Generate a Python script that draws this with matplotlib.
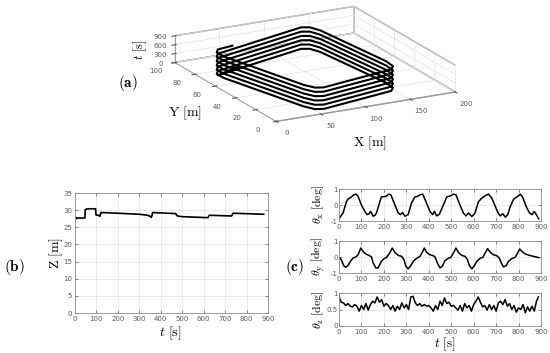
import matplotlib.pyplot as plt
import numpy as np

# ---- (a) trajectory: one lap of waypoints, repeated with lap start times
lap_dt = [0, 42, 45, 48, 70, 73, 76, 111, 114, 117, 139, 142]
lap_x = [18.0, 128.1, 135.6, 139.9, 150.1, 148.5, 142.1, 54.9, 46.7, 40.8, 13.0, 12.5]
lap_y = [73.4, 88.6, 86.6, 80.2, 24.0, 16.0, 12.0, 1.5, 3.0, 9.0, 62.9, 69.7]
lap_start = [10, 155, 300, 445, 590, 735]
start_xyt = [50, 81, 0]
end_x = [18.0, 36]
end_y = [73.4, 75]
end_t = [880, 886]

# ---- (b) altitude
t_z = [0, 5, 8, 12, 20, 46, 48, 60, 80, 96, 98, 109, 116, 121, 125, 200, 300, 340, 350, 355,
       358, 362, 470, 473, 478, 500, 580, 620, 623, 627, 730, 733, 737, 880]
z_m = [28.0, 27.8, 27.5, 27.7, 27.7, 27.7, 30.2, 30.4, 30.4, 30.4, 28.6, 28.5, 28.2, 29.3, 29.3,
       29.1, 28.8, 28.5, 28.2, 27.9, 28.2, 29.3, 29.0, 28.6, 28.3, 28.1, 27.9, 27.8, 28.2, 28.5,
       28.3, 28.6, 29.1, 28.8]

# ---- (c) attitude angles
t_thx = [3, 18, 33, 40, 55, 66, 77, 85, 100, 115, 125, 134, 141, 152, 160, 167, 182, 189, 209, 222,
         231, 249, 264, 274, 283, 294, 308, 323, 338, 350, 361, 373, 390, 405, 417, 425, 435, 447, 465, 480,
         498, 510, 521, 539, 554, 566, 577, 592, 606, 621, 636, 651, 666, 681, 696, 708, 718, 730, 741, 752,
         763, 778, 793, 808, 818, 834, 849, 860, 870, 879, 890]
thx = [-0.8, -0.5, 0.2, 0.37, 0.5, 0.64, 0.68, 0.54, 0.0, -0.4, -0.6, -0.55, -0.4, -0.7, -0.65, -0.5, 0.2, 0.5, 0.54, 0.68,
       0.64, 0.0, -0.5, -0.6, -0.47, -0.7, -0.6, 0.12, 0.5, 0.54, 0.64, 0.68, 0.12, -0.4, -0.6, -0.4, -0.68, -0.58, 0.0, 0.5,
       0.58, 0.68, 0.64, 0.0, -0.5, -0.68, -0.5, -0.72, -0.5, 0.2, 0.43, 0.58, 0.68, 0.43, -0.08, -0.47, -0.68, -0.55, -0.76, -0.6,
       -0.1, 0.37, 0.5, 0.68, 0.5, -0.1, -0.5, -0.6, -0.4, -0.6, -0.87]
t_thy = [3, 10, 21, 30, 40, 51, 63, 75, 85, 97, 107, 119, 134, 145, 152, 164, 174, 189, 201, 212,
         226, 237, 249, 264, 279, 289, 298, 308, 320, 331, 346, 361, 373, 380, 390, 405, 420, 428, 438, 450,
         460, 472, 487, 498, 510, 521, 532, 547, 562, 572, 581, 592, 603, 614, 629, 641, 651, 662, 674, 688,
         703, 714, 723, 733, 745, 755, 770, 785, 796, 805, 815, 830, 849, 867, 890]
thy = [-0.06, -0.16, -0.54, -0.64, -0.54, -0.27, -0.06, 0.0, 0.14, 0.56, 0.35, 0.19, 0.1, 0.0, -0.37, -0.68, -0.68, -0.27, -0.1, -0.02,
       0.25, 0.56, 0.29, 0.1, 0.04, -0.16, -0.58, -0.74, -0.54, -0.27, -0.08, 0.04, 0.35, 0.56, 0.29, 0.14, 0.08, 0.0, -0.37, -0.68,
       -0.58, -0.23, -0.08, -0.02, 0.25, 0.56, 0.29, 0.1, 0.04, -0.16, -0.54, -0.74, -0.54, -0.27, -0.08, -0.02, 0.25, 0.52, 0.29, 0.14,
       0.08, -0.06, -0.37, -0.62, -0.54, -0.27, -0.1, -0.02, 0.25, 0.5, 0.35, 0.19, 0.1, 0.04, -0.04]
t_thz = [0, 5, 10, 20, 30, 40, 50, 60, 70, 80, 90, 100, 110, 120, 130, 140, 150, 160, 170, 180,
         190, 200, 210, 220, 230, 240, 250, 260, 270, 280, 290, 300, 310, 320, 330, 340, 350, 360, 370, 380,
         390, 400, 410, 420, 430, 440, 450, 460, 470, 480, 490, 500, 510, 520, 530, 540, 550, 560, 570, 580,
         590, 600, 610, 620, 630, 640, 650, 660, 670, 680, 690, 700, 710, 720, 730, 740, 750, 760, 770, 780,
         790, 800, 810, 820, 830, 840, 850, 860, 870, 880, 888]
thz = [0.9, 0.8, 0.72, 0.7, 0.62, 0.68, 0.6, 0.58, 0.65, 0.6, 0.45, 0.62, 0.5, 0.68, 0.48, 0.65, 0.75, 0.7, 0.88, 0.72,
       0.8, 0.6, 0.68, 0.62, 0.5, 0.62, 0.45, 0.6, 0.5, 0.7, 0.55, 0.65, 0.5, 0.88, 0.9, 0.7, 0.62, 0.68, 0.6, 0.65,
       0.6, 0.62, 0.55, 0.45, 0.62, 0.5, 0.75, 0.62, 0.85, 0.68, 0.72, 0.6, 0.62, 0.55, 0.48, 0.62, 0.45, 0.68, 0.55, 0.62,
       0.45, 0.65, 0.75, 0.88, 0.72, 0.58, 0.62, 0.48, 0.65, 0.5, 0.62, 0.45, 0.7, 0.75, 0.65, 0.8, 0.6, 0.68, 0.5, 0.62,
       0.42, 0.55, 0.5, 0.65, 0.4, 0.58, 0.45, 0.6, 0.45, 0.75, 0.88]

plt.rcParams['mathtext.fontset'] = 'cm'
plt.rcParams['grid.color'] = '#e2e2e2'
plt.rcParams['grid.linewidth'] = 0.5

W, H = 550, 353
fig = plt.figure(figsize=(W / 100, H / 100), dpi=100)


def fx(x):
    return x / W


def fy(y):
    return 1 - y / H


tick_col = '#5a5a5a'
frame_col = '#8c8c8c'

# ------------------------------------------------------------ (a)
ax3 = fig.add_axes([0.219, 0.593, 0.7, 0.44], projection='3d')
ax3.set_proj_type('ortho')
n = len(lap_start)
x_path = np.concatenate([[start_xyt[0]], np.tile(lap_x, n), end_x])
y_path = np.concatenate([[start_xyt[1]], np.tile(lap_y, n), end_y])
t_path = np.concatenate([[start_xyt[2]],
                         (np.array(lap_start)[:, None] + np.array(lap_dt)[None, :]).ravel(),
                         end_t])
ax3.plot(x_path, y_path, t_path, color='k', lw=1.5, clip_on=False)
ax3.set_xlim(0, 200)
ax3.set_ylim(0, 100)
ax3.set_zlim(0, 900)
ax3.set_xticks([0, 50, 100, 150, 200])
ax3.set_yticks([0, 20, 40, 60, 80, 100])
ax3.set_zticks([0, 300, 600, 900])
ax3.view_init(elev=18, azim=-118)
ax3.set_box_aspect((0.94, 1, 0.13), zoom=1.86)
for axis in (ax3.xaxis, ax3.yaxis, ax3.zaxis):
    axis.set_pane_color((1, 1, 1, 1))
    axis.pane.set_edgecolor(frame_col)
    axis.line.set_color(frame_col)
    axis.line.set_linewidth(0.6)
ax3.tick_params(labelsize=5, colors=tick_col, pad=-2)
ax3.tick_params(axis='z', pad=-5)
fig.text(fx(128), fy(83), r'$\mathbf{(a)}$', fontsize=11, ha='center', va='center')
fig.text(fx(370), fy(143), r'$\mathrm{X}\ [\mathrm{m}]$', fontsize=10, ha='center', va='center')
fig.text(fx(185), fy(113), r'$\mathrm{Y}\ [\mathrm{m}]$', fontsize=10, ha='center', va='center')
fig.text(fx(140), fy(50), r'$t\ [\mathrm{s}]$', fontsize=9, ha='center', va='center', rotation=90)


def style2d(ax):
    ax.grid(True)
    ax.tick_params(direction='in', length=2, width=0.5, labelsize=5, colors=tick_col,
                   top=True, right=True, pad=2)
    for s in ax.spines.values():
        s.set_color(frame_col)
        s.set_linewidth(0.6)
    ax.set_xlim(0, 900)
    ax.set_xticks(range(0, 901, 100))


# ------------------------------------------------------------ (b)
axb = fig.add_axes([fx(75), fy(313), fx(268) - fx(75), fy(193) - fy(313)])
axb.plot(t_z, z_m, color='k', lw=1.2)
style2d(axb)
axb.set_ylim(0, 35)
axb.set_yticks(range(0, 36, 5))
fig.text(fx(56), fy(253), r'$\mathrm{Z}\ [\mathrm{m}]$', fontsize=10, ha='center', va='center', rotation=90)
fig.text(fx(170), fy(333), r'$t\ [\mathrm{s}]$', fontsize=10, ha='center', va='center')
fig.text(fx(14), fy(267), r'$\mathbf{(b)}$', fontsize=11, ha='center', va='center')

# ------------------------------------------------------------ (c)
rows = [(189, 221, t_thx, thx, (-1, 1), [-1, 0, 1], r'$\theta_\mathrm{x}\ [\mathrm{deg}]$'),
        (241, 273, t_thy, thy, (-1, 1), [-1, 0, 1], r'$\theta_\mathrm{y}\ [\mathrm{deg}]$'),
        (293, 326, t_thz, thz, (0, 1), [0, 0.5, 1], r'$\theta_\mathrm{z}\ [\mathrm{deg}]$')]
for top, bot, tt, vv, lim, yt, lab in rows:
    ax = fig.add_axes([fx(339), fy(bot), fx(541) - fx(339), fy(top) - fy(bot)])
    ax.plot(tt, vv, color='k', lw=1.1)
    style2d(ax)
    ax.set_ylim(*lim)
    ax.set_yticks(yt)
    ax.set_yticklabels([f'{v:g}' for v in yt])
    ax.tick_params(axis='y', pad=1)
    fig.text(fx(318), fy((top + bot) / 2), lab, fontsize=8.5, ha='center', va='center', rotation=90)
fig.text(fx(445), fy(344), r'$t\ [\mathrm{s}]$', fontsize=9.5, ha='center', va='center')
fig.text(fx(295), fy(267), r'$\mathbf{(c)}$', fontsize=11, ha='center', va='center')

fig.savefig('out.png', dpi=100)
